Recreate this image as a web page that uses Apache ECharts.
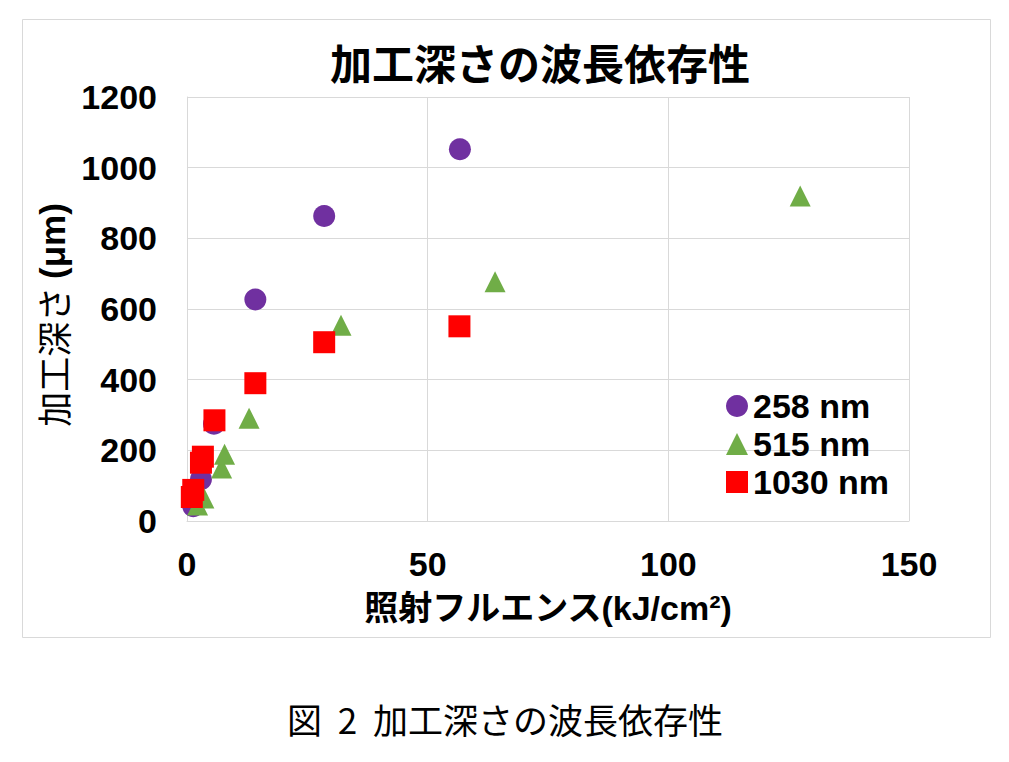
<!DOCTYPE html>
<html>
<head>
<meta charset="utf-8">
<script src="https://cdn.jsdelivr.net/npm/echarts@6/dist/echarts.min.js"></script>
<style>
html,body{margin:0;padding:0;background:#fff;}
#chart{width:1009px;height:762px;}
</style>
</head>
<body>
<div id="chart"></div>
<script>
// ---- data ----
const seriesNames = ['258 nm', '515 nm', '1030 nm'];
const data258 = [[1.3, 42], [2.9, 118], [5.6, 275], [14.2, 627], [28.5, 863], [56.7, 1052]];
const data515 = [[2.2, 45], [3.5, 65], [7.2, 150], [7.8, 189], [12.9, 291], [32.0, 554], [64.0, 677], [127.4, 920]];
const data1030 = [[1.0, 68], [1.3, 88], [2.9, 165], [3.3, 182], [5.7, 285], [14.2, 390], [28.5, 506], [56.6, 551]];
const xTicks = [0, 50, 100, 150];
const yTicks = [0, 200, 400, 600, 800, 1000, 1200];
const titleText = '加工深さの波長依存性';
const captionText = '図\u00A0\u00A02\u00A0\u00A0加工深さの波長依存性';
const xName = '照射フルエンス(kJ/cm²)';
const yNameMain = '加工深さ';
const yNameUnit = '(μm)';

const latin = '"Liberation Sans", Arial, "Noto Sans CJK JP", sans-serif';
const cjk = '"Noto Sans CJK JP", sans-serif';
const gridColor = '#d9d9d9';

const chart = echarts.init(document.getElementById('chart'), null, {renderer: 'svg'});
chart.setOption({
  animation: false,
  backgroundColor: '#ffffff',
  title: {
    text: titleText,
    left: 330,
    top: 40,
    padding: 0,
    textStyle: {fontFamily: cjk, fontSize: 42, fontWeight: 'bold', color: '#000'}
  },
  grid: {left: 187, right: 100, top: 97, bottom: 241, containLabel: false},
  xAxis: {
    type: 'value',
    min: xTicks[0], max: xTicks[xTicks.length - 1], interval: 50,
    name: xName,
    nameLocation: 'middle',
    nameGap: 70,
    nameTextStyle: {fontFamily: latin, fontSize: 34, fontWeight: 'bold', color: '#000'},
    axisLine: {show: true, lineStyle: {color: gridColor, width: 1}},
    axisTick: {show: false},
    axisLabel: {margin: 26, fontFamily: latin, fontSize: 34, fontWeight: 'bold', color: '#000',
                formatter: v => String(v)},
    splitLine: {show: true, lineStyle: {color: gridColor, width: 1}}
  },
  yAxis: {
    type: 'value',
    min: yTicks[0], max: yTicks[yTicks.length - 1], interval: 200,
    name: '{a|' + yNameMain + '\u00A0}{b|' + yNameUnit + '}',
    nameLocation: 'middle',
    nameRotate: 90,
    nameGap: 100,
    nameTextStyle: {
      color: '#000',
      padding: [0, 12, 0, 0],
      rich: {
        a: {fontFamily: cjk, fontSize: 35, fontWeight: 'normal', color: '#000'},
        b: {fontFamily: latin, fontSize: 35, fontWeight: 'bold', color: '#000'}
      }
    },
    axisLine: {show: true, lineStyle: {color: gridColor, width: 1}},
    axisTick: {show: false},
    axisLabel: {margin: 30, fontFamily: latin, fontSize: 34, fontWeight: 'bold', color: '#000',
                formatter: v => String(v)},
    splitLine: {show: true, lineStyle: {color: gridColor, width: 1}}
  },
  legend: {
    orient: 'vertical',
    left: 726,
    top: 389,
    padding: 0,
    itemGap: 4,
    itemWidth: 22,
    itemHeight: 22,
    textStyle: {fontFamily: latin, fontSize: 34, fontWeight: 'bold', color: '#000', lineHeight: 34},
    data: [
      {name: seriesNames[0], icon: 'circle'},
      {name: seriesNames[1], icon: 'triangle'},
      {name: seriesNames[2], icon: 'rect'}
    ]
  },
  series: [
    {name: seriesNames[0], type: 'scatter', symbol: 'circle', symbolSize: 22,
     itemStyle: {color: '#7030A0', opacity: 1}, data: data258},
    {name: seriesNames[1], type: 'scatter', symbol: 'triangle', symbolSize: 21,
     itemStyle: {color: '#70AD47', opacity: 1}, data: data515},
    {name: seriesNames[2], type: 'scatter', symbol: 'rect', symbolSize: 22,
     itemStyle: {color: '#FF0000', opacity: 1}, data: data1030}
  ],
  graphic: [
    {type: 'rect', left: 20, top: 17, z: -10, silent: true,
     shape: {width: 968, height: 618},
     style: {fill: 'none', stroke: gridColor, lineWidth: 1}},
    {type: 'text', x: 505, y: 718, silent: true,
     style: {text: captionText, fontFamily: cjk, fontSize: 35, fill: '#000',
             textAlign: 'center', textVerticalAlign: 'middle'}}
  ]
});
</script>
</body>
</html>
